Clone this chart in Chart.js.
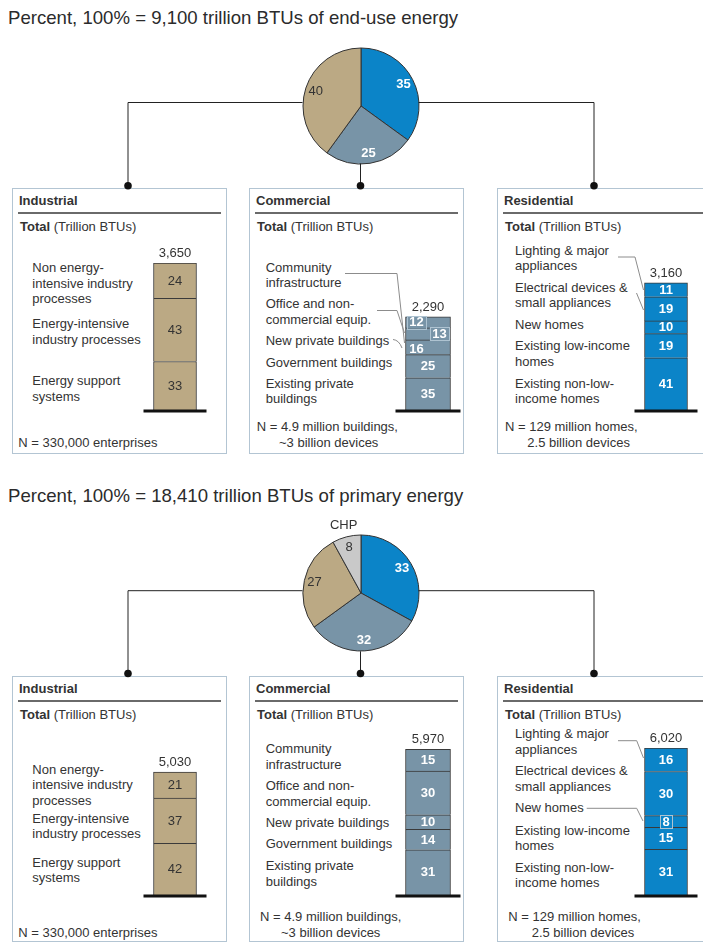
<!DOCTYPE html>
<html>
<head>
<meta charset="utf-8">
<script src="https://cdn.jsdelivr.net/npm/chart.js@4.4.1/dist/chart.umd.min.js"></script>
<style>
  body { margin: 0; background: #fff; }
  #page { position: relative; width: 703px; height: 942px; overflow: hidden;
          font-family: Arial, "Liberation Sans", Helvetica, sans-serif; color: #333; }
  .t { position: absolute; font-size: 13px; line-height: 15.5px; white-space: pre; }
  .title { position: absolute; font-size: 18.6px; line-height: 20px; white-space: pre; color: #2b2b2b; }
  .box { position: absolute; border: 1.5px solid #b3c5d3; box-sizing: border-box; }
  .rule { position: absolute; height: 2px; background: #6a6a6a; }
  canvas { position: absolute; }
  svg { position: absolute; left: 0; top: 0; pointer-events: none; }
</style>
</head>
<body>
<div id="page"></div>
<script>
////// data

const endUseTitle = 'Percent, 100% = 9,100 trillion BTUs of end-use energy';
const primaryTitle = 'Percent, 100% = 18,410 trillion BTUs of primary energy';

// pie slices, clockwise from 12 o'clock
const endUseSlices = ['Residential', 'Commercial', 'Industrial'];
const endUseShares = [35, 25, 40];
const primarySlices = ['Residential', 'Commercial', 'Industrial', 'CHP'];
const primaryShares = [33, 32, 27, 8];

// stack categories, top to bottom
const industrialCats = ['Non energy-\nintensive industry\nprocesses', 'Energy-intensive\nindustry processes', 'Energy support\nsystems'];
const commercialCats = ['Community\ninfrastructure', 'Office and non-\ncommercial equip.', 'New private buildings', 'Government buildings', 'Existing private\nbuildings'];
const residentialCats = ['Lighting & major\nappliances', 'Electrical devices &\nsmall appliances', 'New homes', 'Existing low-income\nhomes', 'Existing non-low-\nincome homes'];

// percent of each sector, top to bottom
const industrialEndUse = [24, 43, 33];
const commercialEndUse = [12, 13, 16, 25, 35];
const residentialEndUse = [11, 19, 10, 19, 41];
const industrialPrimary = [21, 37, 42];
const commercialPrimary = [15, 30, 10, 14, 31];
const residentialPrimary = [16, 30, 8, 15, 31];

// totals, trillion BTUs: industrial, commercial, residential
const endUseTotals = [3650, 2290, 3160];
const primaryTotals = [5030, 5970, 6020];

const industrialNote = ['N = 330,000 enterprises'];
const commercialNote = ['N = 4.9 million buildings,', '~3 billion devices'];
const residentialNote = ['N = 129 million homes,', '2.5 billion devices'];

////// styles

const colors = { Industrial: '#bba984', Commercial: '#7894a7', Residential: '#0b84c8', CHP: '#c9c9c9' };
const FONT = 'Arial, "Liberation Sans", sans-serif';
const page = document.getElementById('page');

function addText(txt, x, y, cls, html) {
    const d = document.createElement('div');
    d.className = cls || 't';
    d.style.left = x + 'px';
    d.style.top = (y - (cls === 'title' ? 10 : 7.75)) + 'px';
    if (html) d.innerHTML = txt; else d.textContent = txt;
    page.appendChild(d);
    return d;
}

function addCanvas(x, y, w, h) {
    const c = document.createElement('canvas');
    c.width = w; c.height = h;
    c.style.left = x + 'px'; c.style.top = y + 'px';
    c.style.width = w + 'px'; c.style.height = h + 'px';
    page.appendChild(c);
    return c;
}

////// pies

function pieLabels(names, shares) {
    return {
        id: 'pieLabels',
        afterDatasetsDraw(chart) {
            const ctx = chart.ctx;
            chart.getDatasetMeta(0).data.forEach((arc, i) => {
                const mid = (arc.startAngle + arc.endAngle) / 2;
                const r = arc.outerRadius * 0.82;
                const dark = names[i] === 'Industrial' || names[i] === 'CHP';
                ctx.save();
                ctx.font = (dark ? '' : 'bold ') + '13px ' + FONT;
                ctx.fillStyle = dark ? '#333' : '#fff';
                ctx.textAlign = 'center';
                ctx.textBaseline = 'middle';
                ctx.fillText(String(shares[i]), arc.x + Math.cos(mid) * r, arc.y + Math.sin(mid) * r);
                if (names[i] === 'CHP') {
                    const r2 = arc.outerRadius * 1.2;
                    ctx.font = '13px ' + FONT;
                    ctx.fillText('CHP', arc.x + Math.cos(mid) * r2, arc.y + Math.sin(mid) * r2);
                }
                ctx.restore();
            });
        }
    };
}

function drawPie(cx, cy, names, shares) {
    const size = 180;
    const c = addCanvas(cx - size / 2, cy - size / 2, size, size);
    new Chart(c.getContext('2d'), {
        type: 'pie',
        data: {
            labels: names,
            datasets: [{
                data: shares,
                backgroundColor: names.map(n => colors[n]),
                borderColor: '#333',
                borderWidth: 1
            }]
        },
        options: {
            responsive: false,
            animation: false,
            events: [],
            radius: 58,
            plugins: { legend: { display: false }, tooltip: { enabled: false } }
        },
        plugins: [pieLabels(names, shares)]
    });
}

////// stacks

function stackLabels(p) {
    return {
        id: 'stackLabels',
        afterDatasetsDraw(chart) {
            const ctx = chart.ctx;
            const n = p.vals.length;
            let top = Infinity, cx = 0, half = 0;
            ctx.save();
            ctx.textAlign = 'center';
            ctx.textBaseline = 'middle';
            for (let i = 0; i < n; i++) {
                const bar = chart.getDatasetMeta(i).data[0];
                const cat = n - 1 - i;
                cx = bar.x; half = bar.width / 2;
                top = Math.min(top, bar.y);
                const txt = String(p.vals[cat]);
                const x = bar.x + ((p.shift && p.shift[cat]) || 0);
                const y = (bar.y + bar.base) / 2 + ((p.lift && p.lift[cat]) || 0);
                ctx.font = (p.dark ? '' : 'bold ') + '13px ' + FONT;
                if (p.boxed && p.boxed.includes(cat)) {
                    const w = ctx.measureText(txt).width + 5;
                    const h = Math.abs(bar.base - bar.y) + 1.5;
                    ctx.fillStyle = p.color;
                    ctx.fillRect(x - w / 2, y - h / 2, w, h);
                    ctx.strokeStyle = '#aec3d1';
                    ctx.lineWidth = 1;
                    ctx.strokeRect(Math.round(x - w / 2) + 0.5, Math.round(y - h / 2) + 0.5, Math.round(w), Math.round(h));
                }
                ctx.fillStyle = p.dark ? '#333' : '#fff';
                ctx.fillText(txt, x, y + 0.5);
            }
            // total above the stack
            ctx.font = '13px ' + FONT;
            ctx.fillStyle = '#333';
            ctx.fillText(p.total.toLocaleString('en-US'), cx, top - 9.5);
            // base line
            const y0 = chart.scales.y.getPixelForValue(0);
            ctx.fillStyle = '#111';
            ctx.fillRect(cx - half - 10, y0 - 0.5, 2 * (half + 10), 3);
            ctx.restore();
        }
    };
}

function drawStack(p) {
    const w = 90, padTop = 25, padBottom = 6, plot = 147;
    const c = addCanvas(p.barX - w / 2, p.base - padTop - plot, w, padTop + plot + padBottom);
    const n = p.vals.length;
    const datasets = [];
    for (let i = n - 1; i >= 0; i--) {
        datasets.push({
            label: p.cats[i],
            data: [p.vals[i] * p.total / 100],
            backgroundColor: p.color,
            borderColor: '#3a3a3a',
            borderWidth: 1,
            barThickness: p.barW,
            stack: 's'
        });
    }
    new Chart(c.getContext('2d'), {
        type: 'bar',
        data: { labels: [''], datasets: datasets },
        options: {
            responsive: false,
            animation: false,
            events: [],
            layout: { padding: { top: padTop, bottom: padBottom, left: 0, right: 0 } },
            scales: {
                x: { display: false, stacked: true },
                y: { display: false, stacked: true, min: 0, max: p.max }
            },
            plugins: { legend: { display: false }, tooltip: { enabled: false } }
        },
        plugins: [stackLabels(p)]
    });
}

////// panels

function drawPanel(p) {
    const b = document.createElement('div');
    b.className = 'box';
    b.style.left = p.boxX + 'px'; b.style.top = p.boxY + 'px';
    b.style.width = '215px'; b.style.height = '266px';
    page.appendChild(b);
    addText('<b>' + p.name + '</b>', p.boxX + 7, p.boxY + 12.5, 't', true);
    const r = document.createElement('div');
    r.className = 'rule';
    r.style.left = (p.boxX + 6) + 'px'; r.style.top = (p.boxY + 24) + 'px';
    r.style.width = '203px';
    page.appendChild(r);
    addText('<b>Total</b> (Trillion BTUs)', p.boxX + 8, p.boxY + 38.7, 't', true);
    p.cats.forEach((c, i) => addText(c, p.labelX, p.labelY[i]));
    p.note.forEach((line, i) => addText(line, p.noteX + (i ? p.noteIndent : 0), p.noteY + i * 15.6));
    drawStack(p);
}

addText(endUseTitle, 8, 17.5, 'title');
addText(primaryTitle, 8, 496, 'title');

const topMax = Math.max(...endUseTotals);
const botMax = Math.max(...primaryTotals);

const panels = [
    { name: 'Industrial', boxX: 12, boxY: 188, cats: industrialCats, vals: industrialEndUse, total: endUseTotals[0], max: topMax,
      color: colors.Industrial, dark: true, barX: 175.2, barW: 43, base: 410,
      labelX: 32.3, labelY: [268, 324, 381], note: industrialNote, noteX: 18.3, noteY: 442.3, noteIndent: 0 },
    { name: 'Commercial', boxX: 249, boxY: 188, cats: commercialCats, vals: commercialEndUse, total: endUseTotals[1], max: topMax,
      color: colors.Commercial, barX: 427.5, barW: 45, base: 410, shift: { 0: -11.5, 1: 11.5, 2: -11.5 }, lift: { 2: 2 }, boxed: [0, 1],
      labelX: 265.7, labelY: [267.3, 304, 340.7, 362.7, 383.3], note: commercialNote, noteX: 256.7, noteY: 426.7, noteIndent: 22.3 },
    { name: 'Residential', boxX: 497, boxY: 188, cats: residentialCats, vals: residentialEndUse, total: endUseTotals[2], max: topMax,
      color: colors.Residential, barX: 665.7, barW: 43, base: 410,
      labelX: 515, labelY: [250.7, 287.7, 324.3, 346, 383.3], note: residentialNote, noteX: 505, noteY: 426.7, noteIndent: 22.3 },
    { name: 'Industrial', boxX: 12, boxY: 676, cats: industrialCats, vals: industrialPrimary, total: primaryTotals[0], max: botMax,
      color: colors.Industrial, dark: true, barX: 175.2, barW: 43, base: 895,
      labelX: 32.3, labelY: [769.3, 818.3, 862.3], note: industrialNote, noteX: 18.3, noteY: 932.3, noteIndent: 0 },
    { name: 'Commercial', boxX: 249, boxY: 676, cats: commercialCats, vals: commercialPrimary, total: primaryTotals[1], max: botMax,
      color: colors.Commercial, barX: 427.5, barW: 45, base: 895,
      labelX: 265.7, labelY: [749, 786, 822.7, 844, 866], note: commercialNote, noteX: 260, noteY: 916.7, noteIndent: 21 },
    { name: 'Residential', boxX: 497, boxY: 676, cats: residentialCats, vals: residentialPrimary, total: primaryTotals[2], max: botMax,
      color: colors.Residential, barX: 665.5, barW: 43, base: 895, boxed: [2],
      labelX: 515, labelY: [734, 771, 807.7, 830.7, 867.3], note: residentialNote, noteX: 508.3, noteY: 916.7, noteIndent: 23.4 }
];
panels.forEach(drawPanel);

drawPie(360.5, 105.5, endUseSlices, endUseShares);
drawPie(360.5, 593.3, primarySlices, primaryShares);

////// connectors and leader lines

const svgNS = 'http://www.w3.org/2000/svg';
const svg = document.createElementNS(svgNS, 'svg');
svg.setAttribute('width', 703);
svg.setAttribute('height', 942);
function path(d, stroke) {
    const e = document.createElementNS(svgNS, 'path');
    e.setAttribute('d', d);
    e.setAttribute('fill', 'none');
    e.setAttribute('stroke', stroke);
    e.setAttribute('stroke-width', 1);
    svg.appendChild(e);
}
function dot(x, y) {
    const e = document.createElementNS(svgNS, 'circle');
    e.setAttribute('cx', x); e.setAttribute('cy', y); e.setAttribute('r', 3.8);
    e.setAttribute('fill', '#111');
    svg.appendChild(e);
}
[[102.5, 105.5, 185.7], [590.7, 593.3, 673.5]].forEach(([ly, cy, dy]) => {
    path(`M128,${ly} H302.5 M418.5,${ly} H594 M128,${ly} V${dy} M594,${ly} V${dy} M360.5,${cy + 58} V${dy}`, '#222');
    dot(128, dy); dot(360.5, dy); dot(594, dy);
});
// leader lines
path('M345,273.5 H397 L404.5,343', '#8c8c8c');
path('M377,310.5 H397 L404.5,333', '#8c8c8c');
path('M393,339.5 Q399,340 402,348', '#8c8c8c');
path('M618,257 H635 L643.5,290', '#8c8c8c');
path('M636.5,293 L643.5,310', '#8c8c8c');
path('M618,740.7 H636.7 L643.5,758', '#8c8c8c');
path('M586.7,808.3 H636.7 L643,821', '#8c8c8c');
page.appendChild(svg);
</script>
</body>
</html>
